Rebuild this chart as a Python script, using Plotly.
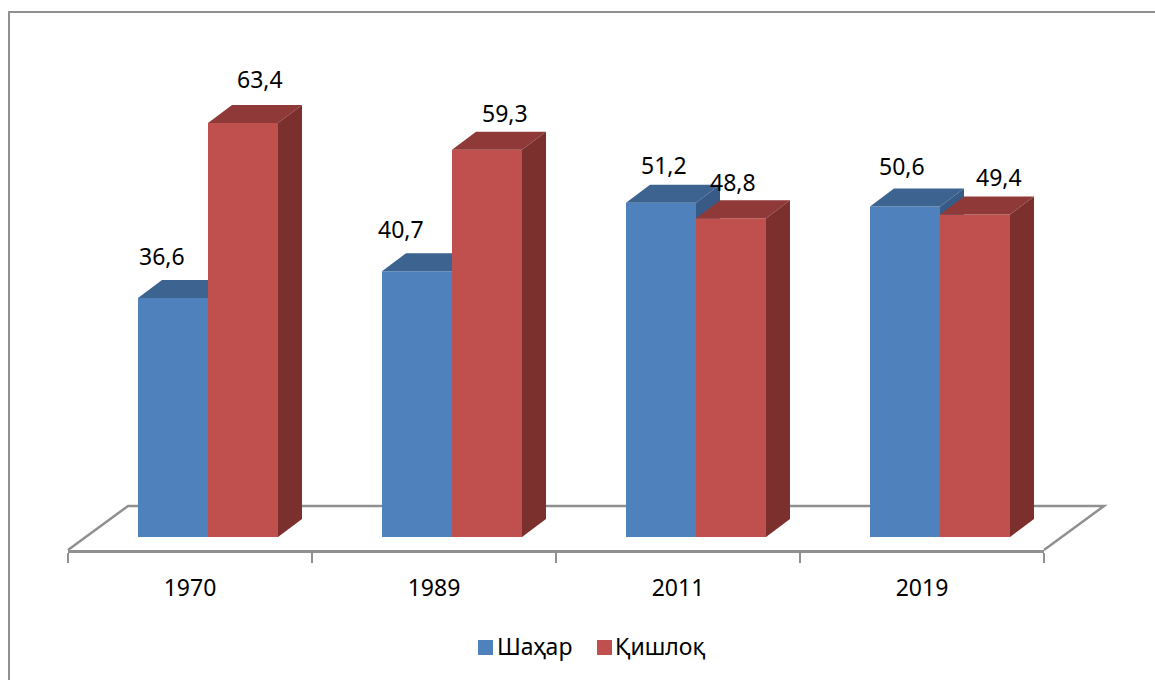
import plotly.graph_objects as go

# ---- data ----
years = ["1970", "1989", "2011", "2019"]
series_names = ["Шаҳар", "Қишлоқ"]
urban = [36.6, 40.7, 51.2, 50.6]
rural = [63.4, 59.3, 48.8, 49.4]

# ---- style ----
W, H = 1155, 680
FONT = "Noto Sans"
FS = 23
GREY = "#909090"
BLUE, BLUE_TOP, BLUE_SIDE = "#4F81BD", "#3D6390", "#375B86"
RED, RED_TOP, RED_SIDE = "#C0504D", "#8F3A38", "#7C302E"

PX_X = 244.0           # pixels per category
PX_Y = 6.53            # pixels per value unit
AX_L, AX_R, AX_B = 68, 1044, 550
BASE_GAP = 13          # px between floor front edge and value 0
BAR_W = 70 / PX_X
SHIFT = 18 / PX_X      # the group sits right of the category centre
DX, DY = 24 / PX_X, 18 / PX_Y

# hand-placed label offsets, px from the bar's top centre
urban_shift = [(-11, 42), (-16, 42), (3, 38), (-3, 41)]
rural_shift = [(16.5, 44), (18, 37), (2, 36), (24, 37)]

centres = [i + 0.5 for i in range(len(years))]
y_low = -BASE_GAP / PX_Y
y_high = y_low + AX_B / PX_Y


def depth_polys(values, left):
    tx, ty, sx, sy = [], [], [], []
    for c, v in zip(centres, values):
        x0 = c + SHIFT + left
        x1 = x0 + BAR_W
        tx += [x0, x1, x1 + DX, x0 + DX, x0, None]
        ty += [v, v, v + DY, v + DY, v, None]
        sx += [x1, x1 + DX, x1 + DX, x1, x1, None]
        sy += [0, DY, v + DY, v, 0, None]
    return tx, ty, sx, sy


def add_series(fig, name, values, left, front, top, side, xa, ya):
    fig.add_bar(x=centres, y=values, name=name, width=BAR_W, offset=SHIFT + left,
                marker=dict(color=front, line=dict(width=0)), xaxis=xa, yaxis=ya,
                showlegend=False)
    tx, ty, sx, sy = depth_polys(values, left)
    for px, py, col in ((tx, ty, top), (sx, sy, side)):
        fig.add_scatter(x=px, y=py, mode="lines", fill="toself", fillcolor=col,
                        line=dict(width=0, color=col), hoverinfo="skip",
                        showlegend=False, xaxis=xa, yaxis=ya)


fig = go.Figure()
add_series(fig, series_names[0], urban, -BAR_W, BLUE, BLUE_TOP, BLUE_SIDE, "x", "y")
add_series(fig, series_names[1], rural, 0, RED, RED_TOP, RED_SIDE, "x2", "y2")

# value labels
annotations = []
for values, left, shifts in ((urban, -BAR_W, urban_shift), (rural, 0, rural_shift)):
    for c, v, (sx, sy) in zip(centres, values, shifts):
        annotations.append(dict(
            x=c + SHIFT + left + BAR_W / 2, y=v, xref="x", yref="y",
            text=f"{v:.1f}".replace(".", ","), showarrow=False,
            xshift=sx, yshift=sy, xanchor="center", yanchor="middle",
            font=dict(family=FONT, size=FS, color="#000000")))

# legend row
px = lambda x: x / W
py = lambda y: 1 - y / H
shapes = []
for name, col, sw_x, tx in ((series_names[0], BLUE, 478, 497), (series_names[1], RED, 597, 615)):
    shapes.append(dict(type="rect", xref="paper", yref="paper", x0=px(sw_x), x1=px(sw_x + 15),
                       y0=py(655), y1=py(640), fillcolor=col, line=dict(width=0)))
    annotations.append(dict(x=px(tx), y=py(646), xref="paper", yref="paper", text=name,
                            showarrow=False, xanchor="left", yanchor="middle", xshift=-2,
                            font=dict(family=FONT, size=FS, color="#000000")))

# floor and outer frame
floor = (f"M{px(AX_L)},{py(AX_B)} L{px(128)},{py(506)} L{px(1104)},{py(506)} "
         f"L{px(AX_R)},{py(AX_B)}")
shapes.append(dict(type="path", path=floor, xref="paper", yref="paper", layer="below",
                   line=dict(color=GREY, width=2.5)))
frame = f"M{px(9)},{py(H)} L{px(9)},{py(12)} L{px(W)},{py(12)}"
shapes.append(dict(type="path", path=frame, xref="paper", yref="paper", layer="below",
                   line=dict(color=GREY, width=2)))

fig.update_layout(
    width=W, height=H, margin=dict(l=0, r=0, t=0, b=0, pad=0, autoexpand=False),
    paper_bgcolor="#FFFFFF", plot_bgcolor="rgba(0,0,0,0)", showlegend=False,
    barmode="overlay", font=dict(family=FONT, size=FS, color="#000000"),
    annotations=annotations, shapes=shapes,
    xaxis=dict(domain=[AX_L / W, AX_R / W], range=[0, len(years)], tickvals=centres,
               ticktext=years, ticks="", showgrid=False, zeroline=False,
               showline=True, linecolor=GREY, linewidth=2.5, fixedrange=True,
               tickfont=dict(family=FONT, size=FS, color="#000000"), ticklabelstandoff=16,
               minor=dict(tickvals=list(range(len(years) + 1)), ticks="outside", ticklen=10,
                          tickwidth=2, tickcolor=GREY, showgrid=False)),
    yaxis=dict(domain=[1 - AX_B / H, 1], range=[y_low, y_high], visible=False, fixedrange=True),
    xaxis2=dict(overlaying="x", matches="x", visible=False, domain=[AX_L / W, AX_R / W]),
    yaxis2=dict(overlaying="y", matches="y", visible=False, domain=[1 - AX_B / H, 1]),
)

fig.write_html("out.html", config={"displayModeBar": False},
               post_script="document.body.style.margin='0';document.documentElement.style.overflow='hidden';")
